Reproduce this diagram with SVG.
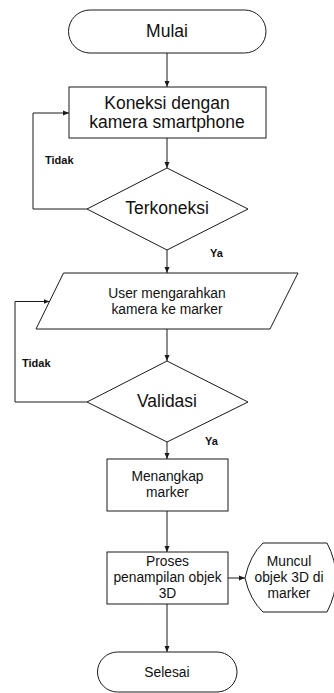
<svg xmlns="http://www.w3.org/2000/svg" width="334" height="693" viewBox="0 0 334 693">
<style>
.s{fill:#fff;stroke:#1a1a1a;stroke-width:1}
.c{fill:none;stroke:#1a1a1a;stroke-width:1}
text{font-family:"Liberation Sans",Arial,sans-serif;fill:#111;text-anchor:middle}
.L{font-size:17.5px}
.M{font-size:13.8px}
.B{font-size:11px;font-weight:bold;text-anchor:start}
</style>
<defs>
<marker id="ah" viewBox="0 0 6 6" refX="6" refY="3" markerWidth="6" markerHeight="6" markerUnits="userSpaceOnUse" orient="auto">
<path d="M0,0.5 L6,3 L0,5.5 Z" fill="#1a1a1a"/>
</marker>
</defs>
<rect width="334" height="693" fill="#fff"/>
<g id="connectors">
<line class="c" x1="167" y1="53" x2="167" y2="87" marker-end="url(#ah)"/>
<line class="c" x1="167" y1="138" x2="167" y2="168" marker-end="url(#ah)"/>
<polyline class="c" points="87,209 33,209 33,113 69,113" marker-end="url(#ah)"/>
<line class="c" x1="167" y1="250" x2="167" y2="273" marker-end="url(#ah)"/>
<polyline class="c" points="87,402 15,402 15,301.5 49.5,301.5" marker-end="url(#ah)"/>
<line class="c" x1="167" y1="329" x2="167" y2="361" marker-end="url(#ah)"/>
<line class="c" x1="167" y1="442" x2="167" y2="459" marker-end="url(#ah)"/>
<line class="c" x1="167" y1="511" x2="167" y2="552" marker-end="url(#ah)"/>
<line class="c" x1="228" y1="578" x2="245" y2="578" marker-end="url(#ah)"/>
<line class="c" x1="167" y1="604" x2="167" y2="652" marker-end="url(#ah)"/>
<text class="B" x="45" y="164">Tidak</text>
<text class="B" x="210" y="257">Ya</text>
<text class="B" x="22" y="367">Tidak</text>
<text class="B" x="205" y="445">Ya</text>
</g>
<g id="mulai">
<rect class="s" x="68.5" y="10" width="197.5" height="43" rx="21.5" ry="21.5"/>
<text class="L" x="167" y="37">Mulai</text>
</g>
<g id="koneksi">
<rect class="s" x="69" y="87" width="197" height="51"/>
<text class="L" x="167" y="108.5">Koneksi dengan</text>
<text class="L" x="167" y="128">kamera smartphone</text>
</g>
<g id="terkoneksi">
<polygon class="s" points="167,168 248,209 167,250 87,209"/>
<text class="L" x="167" y="214">Terkoneksi</text>
</g>
<g id="user">
<polygon class="s" points="63.5,273 298,273 270,329 36,329"/>
<text class="M" x="167" y="297.5">User mengarahkan</text>
<text class="M" x="167" y="313.5">kamera ke marker</text>
</g>
<g id="validasi">
<polygon class="s" points="167,361 248,402 167,442 87,402"/>
<text class="L" x="167" y="407">Validasi</text>
</g>
<g id="menangkap">
<rect class="s" x="107" y="459" width="121" height="52"/>
<text class="M" x="167.5" y="481">Menangkap</text>
<text class="M" x="167.5" y="497">marker</text>
</g>
<g id="proses">
<rect class="s" x="107" y="552" width="121" height="52"/>
<text class="M" x="167.5" y="565.5">Proses</text>
<text class="M" x="167.5" y="582">penampilan objek</text>
<text class="M" x="167.5" y="598">3D</text>
</g>
<g id="muncul">
<path class="s" d="M263,543 L327,543 Q345,577.5 327,612 L263,612 Q250,600 245,578 Q250,555 263,543 Z"/>
<text class="M" x="289" y="566">Muncul</text>
<text class="M" x="289" y="582">objek 3D di</text>
<text class="M" x="289" y="598">marker</text>
</g>
<g id="selesai">
<rect class="s" x="97.5" y="652" width="139.5" height="40" rx="20" ry="20"/>
<text class="M" x="167" y="677">Selesai</text>
</g>
</svg>
